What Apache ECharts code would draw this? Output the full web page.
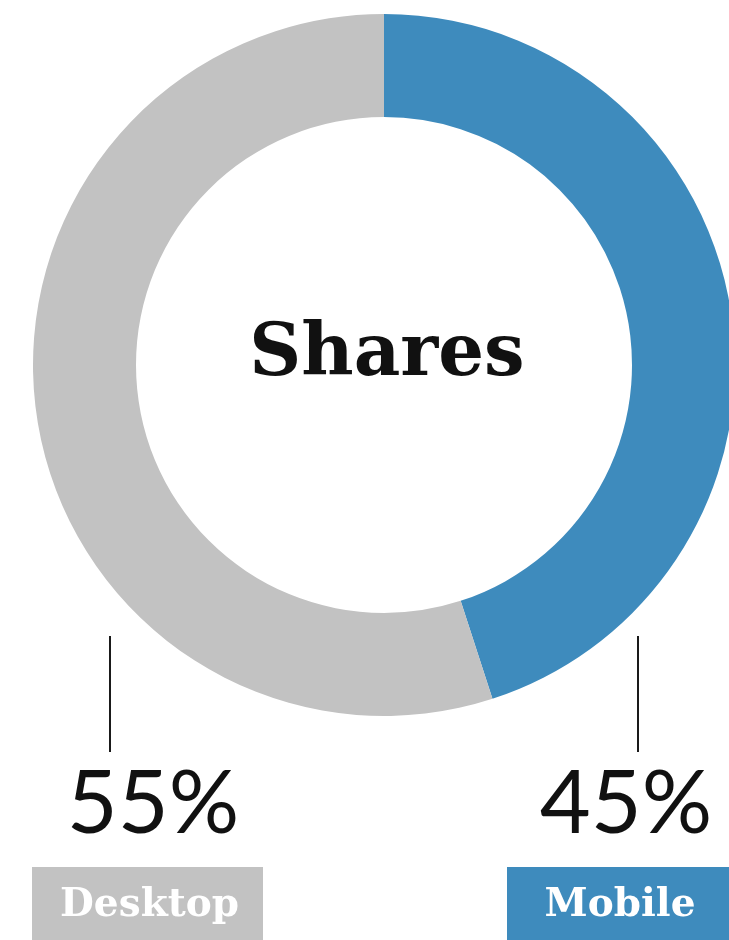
<!DOCTYPE html>
<html>
<head>
<meta charset="utf-8">
<style>
  html, body { margin: 0; padding: 0; background: #fff; }
  #chart { width: 729px; height: 940px; }
</style>
<script src="https://cdn.jsdelivr.net/npm/echarts@6/dist/echarts.min.js"></script>
</head>
<body>
<div id="chart"></div>
<script>
// Share of content shares by device
const categories = ['Mobile', 'Desktop'];
const shareValues = [45, 55];
const sliceColors = ['#3e8bbd', '#c2c2c2'];
const centerTitle = 'Shares';

const chart = echarts.init(document.getElementById('chart'), null, { renderer: 'canvas' });

const CX = 384, CY = 365;
const slabFont = '"DejaVu Serif", serif';
const sansFont = 'Lato, "Open Sans", sans-serif';

// callout layout per category: leader line x, percentage text centre, tag box
const callouts = {
  Desktop: { lineX: 110, textX: 153, boxX: 32, boxW: 231 },
  Mobile:  { lineX: 638, textX: 626, boxX: 507, boxW: 222 }
};

const graphics = [];
categories.forEach(function (name, i) {
  const c = callouts[name];
  graphics.push({
    type: 'line',
    shape: { x1: c.lineX, y1: 636, x2: c.lineX, y2: 752 },
    style: { stroke: '#1a1a1a', lineWidth: 2 }
  });
  graphics.push({
    type: 'text',
    x: c.textX, y: 805,
    style: {
      text: shareValues[i] + '%',
      font: 'normal 88px ' + sansFont,
      fill: '#111',
      align: 'center',
      verticalAlign: 'middle'
    }
  });
  graphics.push({
    type: 'rect',
    shape: { x: c.boxX, y: 867, width: c.boxW, height: 80 },
    style: { fill: sliceColors[i] }
  });
  graphics.push({
    type: 'text',
    x: c.boxX + c.boxW / 2 + 2, y: 906,
    style: {
      text: name,
      font: 'bold 39px ' + slabFont,
      fill: '#fff',
      align: 'center',
      verticalAlign: 'middle'
    }
  });
});

graphics.push({
  type: 'text',
  x: CX + 3, y: 356,
  style: {
    text: centerTitle,
    font: 'bold 72px ' + slabFont,
    fill: '#111',
    align: 'center',
    verticalAlign: 'middle'
  }
});

chart.setOption({
  animation: false,
  color: sliceColors,
  series: [{
    type: 'pie',
    center: [CX, CY],
    radius: [248, 351],
    startAngle: 90,
    clockwise: true,
    silent: true,
    label: { show: false },
    labelLine: { show: false },
    data: categories.map(function (name, i) {
      return { name: name, value: shareValues[i] };
    })
  }],
  graphic: graphics
});
</script>
</body>
</html>
